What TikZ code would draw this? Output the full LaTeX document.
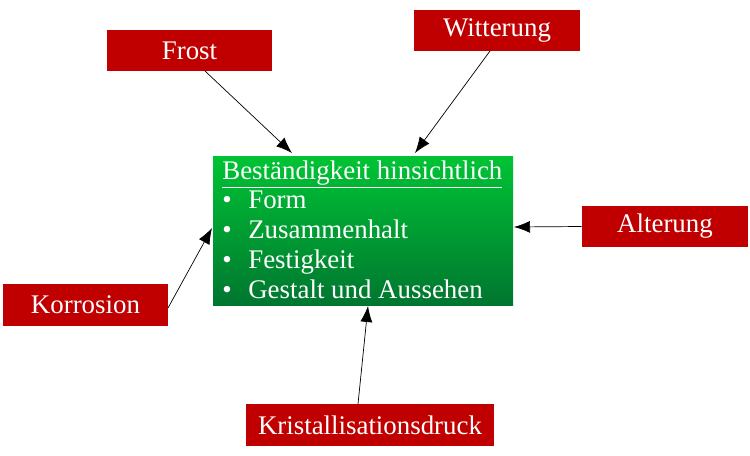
\documentclass[tikz,border=0pt]{standalone}
\usepackage{fontspec}
\setmainfont{Liberation Serif}
\usetikzlibrary{arrows.meta}
\definecolor{boxred}{RGB}{192,0,0}
\tikzset{
  factor/.style={draw=none, fill=boxred, text=white, font=\fontsize{15.3}{17}\selectfont,
    minimum width=3.32cm, minimum height=0.84cm, inner sep=0pt},
  push/.style={-{Latex[length=3.2mm,width=2.4mm]}, thin},
}
\newcommand{\bul}{\makebox[0.52cm][l]{•}}
\begin{document}
\begin{tikzpicture}[x=0.02cm, y=-0.02cm]
  \useasboundingbox (0,0) rectangle (750,456);
  % factors
  \node[factor] (frost) at (189.5,50.5) {Frost};
  \node[factor] (witterung) at (497,30.5) {Witterung};
  \node[factor] (alterung) at (665,226.5) {Alterung};
  \node[factor] (korrosion) at (85.5,305) {Korrosion};
  \node[factor, minimum width=4.96cm] (kristall) at (370,425) {Kristallisationsdruck};
  % central box
  \shade[top color={rgb,255:red,0;green,196;blue,52}, bottom color={rgb,255:red,0;green,118;blue,48}]
    (213,156) rectangle (513,305);
  \node[anchor=north west, text=white, align=left, inner sep=0pt,
        font=\fontsize{15.3}{17}\selectfont] (text) at (222,160)
    {\underline{Beständigkeit hinsichtlich}\\
     \bul Form\\
     \bul Zusammenhalt\\
     \bul Festigkeit\\
     \bul Gestalt und Aussehen};
  % arrow ends
  \coordinate (f0) at (205,71);
  \coordinate (w0) at (490,51);
  \coordinate (k0) at (168,308);
  \coordinate (d0) at (358,404);
  \coordinate (f1) at (292,153);
  \coordinate (w1) at (415,153);
  \coordinate (a1) at (514,227);
  \coordinate (k1) at (212,228);
  \coordinate (d1) at (368,306);
  \draw[push] (f0) -- (f1);
  \draw[push] (w0) -- (w1);
  \draw[push] (alterung.west) -- (a1);
  \draw[push] (k0) -- (k1);
  \draw[push] (d0) -- (d1);
\end{tikzpicture}
\end{document}
